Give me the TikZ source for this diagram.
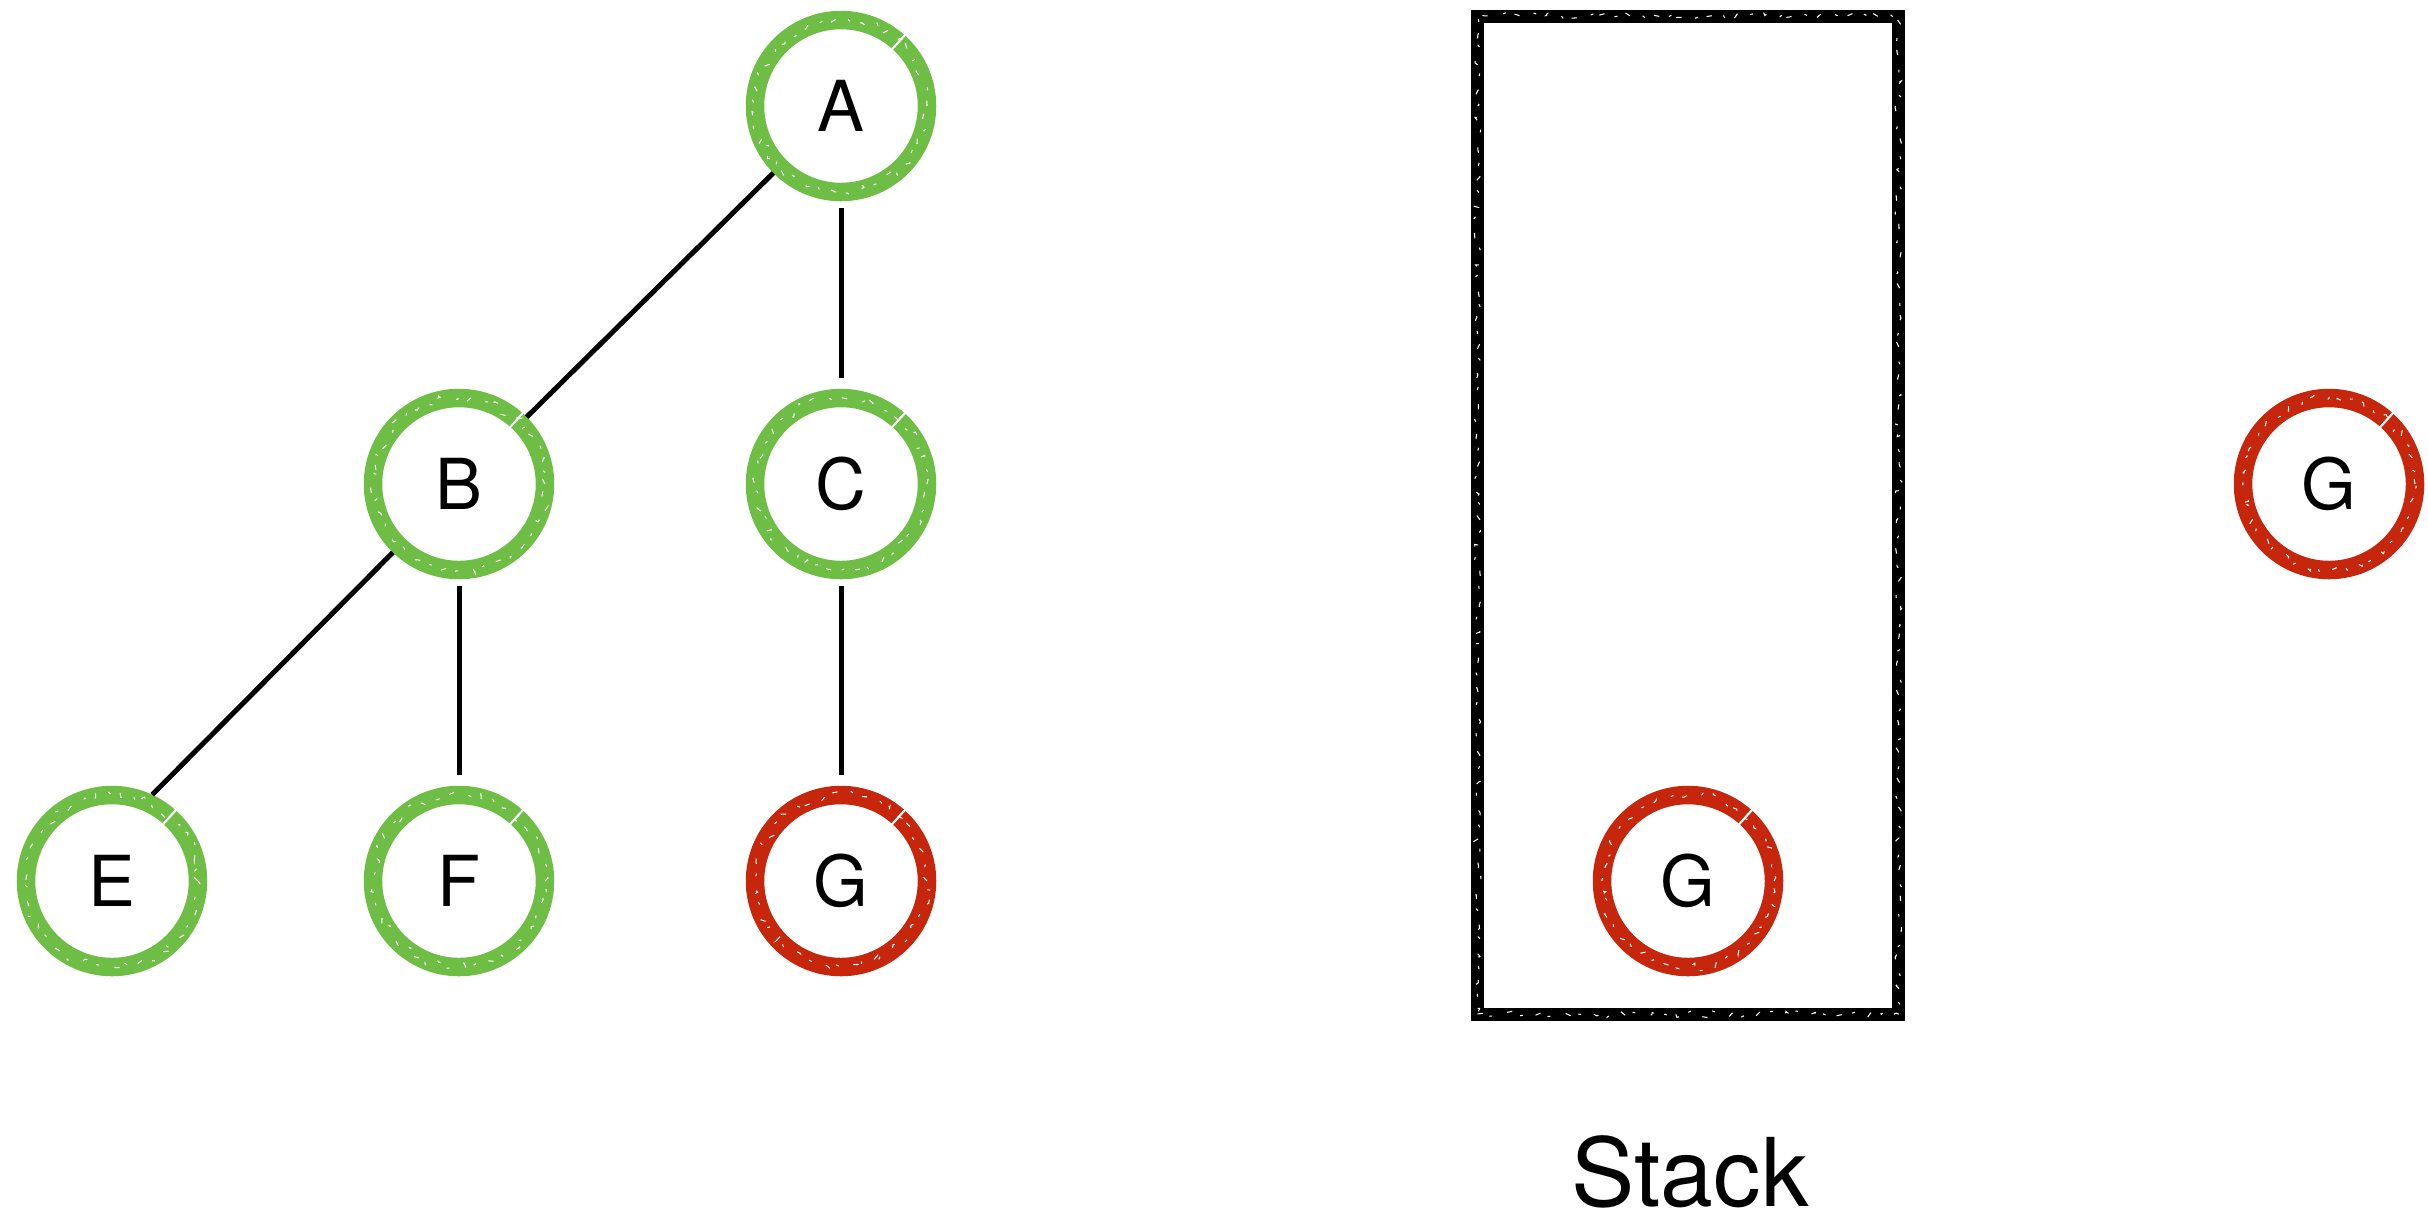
\documentclass[tikz,border=0pt]{standalone}
\usepackage{fontspec}
\setmainfont{TeX Gyre Heros}
\usepackage{tikz}
\usetikzlibrary{decorations.pathmorphing}
\definecolor{mygreen}{RGB}{110, 190, 70}
\definecolor{myred}{RGB}{198, 38, 12}
\tikzset{>=latex}
\tikzset{
  chalk/.style = {postaction = {draw = white, line width = 0.3pt,
    dash pattern = on 1.5pt off 3pt on 0.8pt off 4.5pt, decorate,
    decoration = {random steps, segment length = 1.4pt, amplitude = #1}}},
  vertex/.style = {circle, draw, line width = 0.185cm, minimum size = 1.72cm, inner sep = 0pt,
    font = \fontsize{20}{22}\selectfont, chalk = 1.3pt},
  done/.style = {vertex, draw = mygreen},
  hit/.style = {vertex, draw = myred},
  edge/.style = {line width = 0.05cm},
  stackbox/.style = {draw, line width = 0.13cm, minimum width = 4.21cm, minimum height = 9.98cm,
    chalk = 1pt}
}

\begin{document}
\begin{tikzpicture}
\pgfmathsetseed{11}
\useasboundingbox (0,0) rectangle (24.28,-12.17);
% tree
\node[done] (A) at (8.41,-1.06) {A};
\node[done] (B) at (4.59,-4.84) {B};
\node[done] (C) at (8.41,-4.84) {C};
\node[done] (E) at (1.12,-8.81) {E};
\node[done] (F) at (4.59,-8.81) {F};
\node[hit] (G) at (8.41,-8.81) {G};
\draw[edge] (A) -- (B);
\draw[edge, shorten < = 2pt, shorten > = 3pt] (A) -- (C);
\draw[edge] (B.226) -- (E.65);
\draw[edge, shorten < = 2pt, shorten > = 3pt] (B) -- (F);
\draw[edge, shorten < = 2pt, shorten > = 3pt] (C) -- (G);
% stack
\node[stackbox] (stack) at (16.88,-5.15) {};
\node[hit] (sG) at (16.88,-8.81) {G};
\node[anchor = base, inner sep = 0pt, font = \fontsize{27}{29}\selectfont] (label) at (16.9,-12.06) {Stack};
% popped node
\node[hit] (oG) at (23.29,-4.84) {G};
% small breaks in the rings
\foreach \n in {A, B, C, E, F, G, sG, oG}
  \draw[white, line width = 0.6pt] (\n.center) ++(48:0.76) -- ++(48:0.2);
\end{tikzpicture}
\end{document}
